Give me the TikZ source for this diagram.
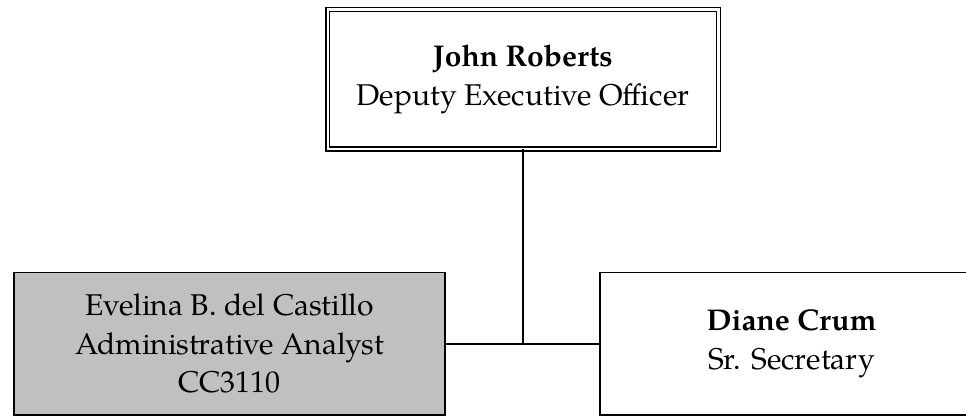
\documentclass[tikz,border=0pt]{standalone}
\usepackage{fontspec}
\IfFontExistsTF{TeX Gyre Pagella}{\setmainfont{TeX Gyre Pagella}}{\setmainfont{Liberation Serif}}
\definecolor{boxgray}{RGB}{192,192,192}
\begin{document}
\begin{tikzpicture}[x=1pt,y=-1pt,
  box/.style={draw, line width=1.8pt, inner sep=0pt, outer sep=0pt, align=center,
    font=\fontsize{30}{38.5}\selectfont},
  link/.style={line width=1.5pt}]
\useasboundingbox (0,0) rectangle (966,417);
\clip (0,0) rectangle (966,417);
\node[box, double, double distance=2.4pt, line width=1.5pt,
      minimum width=390.6pt, minimum height=139.6pt] (top) at (523,79.2)
  {\textbf{John Roberts}\\Deputy Executive Officer};
\node[box, fill=boxgray, minimum width=431pt, minimum height=142.5pt] (left) at (229.5,343.75)
  {Evelina B. del Castillo\\Administrative Analyst\\CC3110};
\node[box, minimum width=383pt, minimum height=142.5pt] (right) at (791.5,343.75)
  {\textbf{Diane Crum}\\Sr. Secretary};
\draw[link] (left.east) -- (right.west);
\draw[link] (top.south) -- (top.south |- left.east);
\end{tikzpicture}
\end{document}
